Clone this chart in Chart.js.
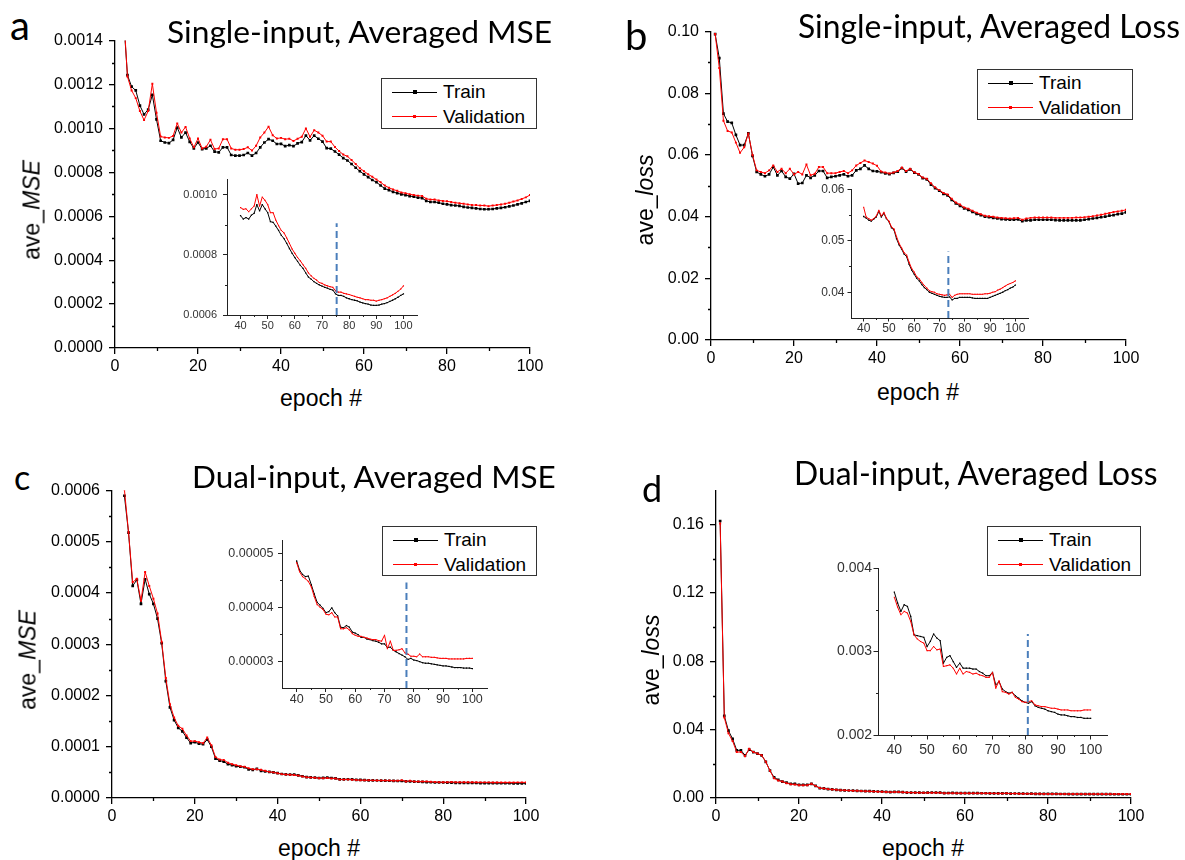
<!DOCTYPE html>
<html>
<head>
<meta charset="utf-8">
<title>Averaged MSE and loss per epoch</title>
<script src="https://cdn.jsdelivr.net/npm/chart.js@4.4.1/dist/chart.umd.min.js"></script>
<style>
  html, body { margin: 0; padding: 0; background: #fff; }
  #page { position: relative; width: 1185px; height: 860px; overflow: hidden; background: #fff; }
  #page canvas { position: absolute; }
  .txt { position: absolute; white-space: nowrap; color: #000; line-height: normal; }
  .sans { font-family: "Liberation Sans", Arial, sans-serif; }
  .head { font-family: Lato, "Open Sans", sans-serif; }
  .legend { position: absolute; box-sizing: border-box; border: 1.5px solid #333; background: #fff;
            font-family: "Liberation Sans", Arial, sans-serif; font-size: 19px; color: #000; }
  .legend .key { position: absolute; left: 10px; width: 45px; height: 0; border-top: 1px solid; }
  .legend .dot { position: absolute; }
  .legend .name { position: absolute; left: 61px; line-height: 22px; }
</style>
</head>
<body>
<div id="page"></div>
<script>
// ---- single-input model, averaged MSE (epochs 2..100) ----
const singleMseStart = 2;
const singleMseTrain = [
  0.00152, 0.001243, 0.00119, 0.001173, 0.001104, 0.001064, 0.001086, 0.001153, 0.001041, 0.000944,
  0.000936, 0.000933, 0.000948, 0.001004, 0.000959, 0.000981, 0.000939, 0.000909, 0.000936, 0.000906,
  0.000909, 0.000921, 0.000894, 0.000891, 0.000914, 0.000914, 0.000879, 0.000876, 0.000876, 0.000879,
  0.000888, 0.000876, 0.000888, 0.000914, 0.000936, 0.000951, 0.000944, 0.000929, 0.000930, 0.000919,
  0.000924, 0.000919, 0.000932, 0.000938, 0.000967, 0.000946, 0.000967, 0.000953, 0.000940, 0.000910,
  0.000908, 0.000895, 0.000881, 0.000865, 0.000854, 0.000838, 0.000821, 0.000805, 0.000791, 0.000778,
  0.000765, 0.000755, 0.000740, 0.000726, 0.000719, 0.000711, 0.000705, 0.000700, 0.000696, 0.000692,
  0.000689, 0.000685, 0.000683, 0.000670, 0.000665, 0.000665, 0.000662, 0.000657, 0.000654, 0.000651,
  0.000649, 0.000647, 0.000643, 0.000640, 0.000638, 0.000636, 0.000633, 0.000632, 0.000632, 0.000633,
  0.000636, 0.000638, 0.000641, 0.000645, 0.000649, 0.000654, 0.000659, 0.000665, 0.000670
];
const singleMseVal = [
  0.00155, 0.001236, 0.001173, 0.001138, 0.001079, 0.001038, 0.001079, 0.001203, 0.001071, 0.000963,
  0.000959, 0.000957, 0.000966, 0.001023, 0.000981, 0.001007, 0.000954, 0.000914, 0.000954, 0.000909,
  0.000917, 0.000948, 0.000906, 0.000909, 0.000951, 0.000951, 0.000909, 0.000903, 0.000903, 0.000906,
  0.000914, 0.000899, 0.000921, 0.000959, 0.000981, 0.001008, 0.000969, 0.000954, 0.000957, 0.000951,
  0.000953, 0.000943, 0.000953, 0.000962, 0.001000, 0.000962, 0.000992, 0.000981, 0.000967, 0.000940,
  0.000940, 0.000915, 0.000897, 0.000881, 0.000873, 0.000856, 0.000838, 0.000819, 0.000805, 0.000791,
  0.000780, 0.000767, 0.000755, 0.000740, 0.000730, 0.000722, 0.000716, 0.000708, 0.000705, 0.000700,
  0.000697, 0.000694, 0.000692, 0.000680, 0.000676, 0.000676, 0.000672, 0.000670, 0.000668, 0.000665,
  0.000662, 0.000659, 0.000657, 0.000654, 0.000651, 0.000651, 0.000649, 0.000649, 0.000646, 0.000649,
  0.000651, 0.000654, 0.000657, 0.000662, 0.000667, 0.000672, 0.000679, 0.000686, 0.000697
];

// ---- single-input model, averaged loss (epochs 1..100) ----
const singleLossStart = 1;
const singleLossTrain = [
  0.0992, 0.0914, 0.0734, 0.0708, 0.0704, 0.0665, 0.0632, 0.0632, 0.0670, 0.0597,
  0.0545, 0.0537, 0.0531, 0.0537, 0.0561, 0.0534, 0.0548, 0.0529, 0.0523, 0.0539,
  0.0507, 0.0509, 0.0534, 0.0526, 0.0534, 0.0548, 0.0548, 0.0526, 0.0529, 0.0531,
  0.0534, 0.0537, 0.0531, 0.0534, 0.0550, 0.0555, 0.0566, 0.0555, 0.0548, 0.0547,
  0.0544, 0.0540, 0.0538, 0.0542, 0.0546, 0.0557, 0.0546, 0.0553, 0.0543, 0.0537,
  0.0525, 0.0521, 0.0504, 0.0492, 0.0484, 0.0474, 0.0469, 0.0454, 0.0443, 0.0435,
  0.0427, 0.0422, 0.0415, 0.0409, 0.0405, 0.0400, 0.0398, 0.0396, 0.0394, 0.0392,
  0.0391, 0.0390, 0.0390, 0.0391, 0.0385, 0.0388, 0.0388, 0.0390, 0.0390, 0.0390,
  0.0390, 0.0390, 0.0389, 0.0388, 0.0388, 0.0388, 0.0388, 0.0388, 0.0388, 0.0390,
  0.0392, 0.0394, 0.0396, 0.0398, 0.0400, 0.0403, 0.0405, 0.0408, 0.0410, 0.0414
];
const singleLossVal = [
  0.0992, 0.0882, 0.0711, 0.0678, 0.0673, 0.0640, 0.0607, 0.0625, 0.0670, 0.0600,
  0.0550, 0.0545, 0.0541, 0.0550, 0.0566, 0.0545, 0.0555, 0.0541, 0.0555, 0.0537,
  0.0545, 0.0537, 0.0569, 0.0534, 0.0539, 0.0561, 0.0561, 0.0541, 0.0541, 0.0541,
  0.0545, 0.0548, 0.0541, 0.0550, 0.0566, 0.0574, 0.0582, 0.0577, 0.0572, 0.0565,
  0.0546, 0.0543, 0.0540, 0.0543, 0.0548, 0.0559, 0.0548, 0.0555, 0.0544, 0.0538,
  0.0527, 0.0523, 0.0508, 0.0495, 0.0486, 0.0477, 0.0472, 0.0458, 0.0446, 0.0439,
  0.0430, 0.0426, 0.0419, 0.0413, 0.0408, 0.0403, 0.0401, 0.0400, 0.0397, 0.0396,
  0.0395, 0.0394, 0.0395, 0.0396, 0.0390, 0.0394, 0.0396, 0.0397, 0.0397, 0.0397,
  0.0397, 0.0397, 0.0396, 0.0396, 0.0396, 0.0396, 0.0396, 0.0397, 0.0397, 0.0398,
  0.0400, 0.0401, 0.0404, 0.0406, 0.0409, 0.0412, 0.0415, 0.0417, 0.0419, 0.0422
];

// ---- dual-input model, averaged MSE (epochs 3..100) ----
const dualMseStart = 3;
const dualMseTrain = [
  5.90e-4, 5.18e-4, 4.14e-4, 4.26e-4, 3.79e-4, 4.27e-4, 3.98e-4, 3.79e-4, 3.50e-4, 3.02e-4,
  2.28e-4, 1.77e-4, 1.52e-4, 1.37e-4, 1.30e-4, 1.18e-4, 1.07e-4, 1.09e-4, 1.06e-4, 1.05e-4,
  1.14e-4, 1.00e-4, 7.7e-5, 7.3e-5, 7.1e-5, 6.6e-5, 6.4e-5, 6.2e-5, 6.1e-5, 6.0e-5,
  5.6e-5, 5.5e-5, 5.7e-5, 5.3e-5, 5.2e-5, 5.1e-5, 5.0e-5, 4.86e-5, 4.69e-5, 4.61e-5,
  4.57e-5, 4.58e-5, 4.42e-5, 4.25e-5, 4.09e-5, 4.04e-5, 3.98e-5, 3.90e-5, 3.92e-5, 3.99e-5,
  3.90e-5, 3.84e-5, 3.63e-5, 3.62e-5, 3.66e-5, 3.63e-5, 3.54e-5, 3.52e-5, 3.49e-5, 3.44e-5,
  3.44e-5, 3.41e-5, 3.40e-5, 3.38e-5, 3.37e-5, 3.35e-5, 3.32e-5, 3.32e-5, 3.25e-5, 3.26e-5,
  3.20e-5, 3.17e-5, 3.14e-5, 3.11e-5, 3.08e-5, 3.03e-5, 3.05e-5, 3.02e-5, 3.01e-5, 2.99e-5,
  2.97e-5, 2.96e-5, 2.96e-5, 2.95e-5, 2.94e-5, 2.93e-5, 2.92e-5, 2.91e-5, 2.91e-5, 2.90e-5,
  2.89e-5, 2.88e-5, 2.88e-5, 2.88e-5, 2.87e-5, 2.87e-5, 2.87e-5, 2.86e-5
];
const dualMseVal = [
  6.02e-4, 5.18e-4, 4.21e-4, 4.28e-4, 3.85e-4, 4.41e-4, 4.14e-4, 3.89e-4, 3.60e-4, 3.05e-4,
  2.34e-4, 1.83e-4, 1.57e-4, 1.41e-4, 1.35e-4, 1.22e-4, 1.11e-4, 1.11e-4, 1.09e-4, 1.07e-4,
  1.18e-4, 1.03e-4, 8.0e-5, 7.5e-5, 7.4e-5, 6.9e-5, 6.6e-5, 6.4e-5, 6.2e-5, 6.1e-5,
  5.8e-5, 5.6e-5, 5.6e-5, 5.5e-5, 5.3e-5, 5.1e-5, 5.0e-5, 4.83e-5, 4.66e-5, 4.57e-5,
  4.53e-5, 4.48e-5, 4.38e-5, 4.20e-5, 4.05e-5, 4.00e-5, 3.96e-5, 3.87e-5, 3.86e-5, 3.90e-5,
  3.82e-5, 3.82e-5, 3.60e-5, 3.60e-5, 3.62e-5, 3.58e-5, 3.51e-5, 3.48e-5, 3.46e-5, 3.46e-5,
  3.44e-5, 3.43e-5, 3.41e-5, 3.40e-5, 3.40e-5, 3.38e-5, 3.37e-5, 3.48e-5, 3.23e-5, 3.37e-5,
  3.20e-5, 3.20e-5, 3.21e-5, 3.23e-5, 3.15e-5, 3.13e-5, 3.09e-5, 3.09e-5, 3.08e-5, 3.13e-5,
  3.08e-5, 3.08e-5, 3.08e-5, 3.07e-5, 3.07e-5, 3.06e-5, 3.05e-5, 3.05e-5, 3.05e-5, 3.04e-5,
  3.04e-5, 3.04e-5, 3.04e-5, 3.04e-5, 3.04e-5, 3.05e-5, 3.05e-5, 3.05e-5
];

// ---- dual-input model, averaged loss (epochs 1..100) ----
const dualLossStart = 1;
const dualLossTrain = [
  0.1622, 0.0481, 0.0394, 0.0346, 0.0279, 0.0279, 0.0250, 0.0283, 0.0269, 0.0260,
  0.0250, 0.0212, 0.0160, 0.0121, 0.0106, 0.0096, 0.0090, 0.0083, 0.0083, 0.0077,
  0.0077, 0.0077, 0.0083, 0.0071, 0.0058, 0.0056, 0.0052, 0.0050, 0.0048, 0.0046,
  0.0045, 0.0044, 0.0043, 0.0042, 0.0041, 0.0040, 0.0040, 0.0039, 0.0038, 0.00371,
  0.00358, 0.00348, 0.00356, 0.00354, 0.00342, 0.00320, 0.00319, 0.00318, 0.00317, 0.00306,
  0.00312, 0.00321, 0.00316, 0.00313, 0.00286, 0.00293, 0.00295, 0.00288, 0.00281, 0.00286,
  0.00280, 0.00280, 0.00280, 0.00279, 0.00279, 0.00276, 0.00274, 0.00271, 0.00271, 0.00275,
  0.00260, 0.00264, 0.00255, 0.00252, 0.00250, 0.00251, 0.00247, 0.00244, 0.00241, 0.00239,
  0.00238, 0.00240, 0.00235, 0.00233, 0.00232, 0.00231, 0.00229, 0.00228, 0.00227, 0.00225,
  0.00224, 0.00224, 0.00223, 0.00222, 0.00222, 0.00221, 0.00221, 0.00220, 0.00220, 0.00220
];
const dualLossVal = [
  0.1607, 0.0471, 0.0379, 0.0333, 0.0269, 0.0269, 0.0244, 0.0289, 0.0269, 0.0260,
  0.0250, 0.0212, 0.0160, 0.0115, 0.0102, 0.0096, 0.0087, 0.0081, 0.0079, 0.0075,
  0.0075, 0.0075, 0.0083, 0.0071, 0.0058, 0.0056, 0.0052, 0.0050, 0.0048, 0.0046,
  0.0045, 0.0044, 0.0043, 0.0042, 0.0041, 0.0040, 0.0039, 0.0038, 0.0037, 0.00365,
  0.00353, 0.00344, 0.00348, 0.00346, 0.00336, 0.00320, 0.00315, 0.00312, 0.00310, 0.00301,
  0.00301, 0.00306, 0.00302, 0.00303, 0.00282, 0.00283, 0.00284, 0.00280, 0.00273, 0.00280,
  0.00273, 0.00276, 0.00275, 0.00273, 0.00274, 0.00272, 0.00271, 0.00269, 0.00269, 0.00275,
  0.00256, 0.00265, 0.00252, 0.00251, 0.00249, 0.00251, 0.00245, 0.00243, 0.00240, 0.00239,
  0.00240, 0.00241, 0.00236, 0.00235, 0.00234, 0.00234, 0.00233, 0.00232, 0.00232, 0.00231,
  0.00230, 0.00230, 0.00230, 0.00229, 0.00229, 0.00229, 0.00229, 0.00230, 0.00230, 0.00230
];

// chosen epoch (dashed marker) and how high the marker reaches, per model
const markerSingleMse = [75.4, 0.000905];
const markerSingleLoss = [73.5, 0.0479];
const markerDualMse = [77.5, 0.0000446];
const markerDualLoss = [80.8, 0.00321];

// tick labels
const epochLabels = ['0', '20', '40', '60', '80', '100'];
const epochMinor = [10, 30, 50, 70, 90];
const zoomEpochLabels = ['40', '50', '60', '70', '80', '90', '100'];
const zoomEpochMinor = [45, 55, 65, 75, 85, 95];
const singleMseLabels = ['0.0000', '0.0002', '0.0004', '0.0006', '0.0008', '0.0010', '0.0012', '0.0014'];
const singleMseMinor = [0.0001, 0.0003, 0.0005, 0.0007, 0.0009, 0.0011, 0.0013];
const singleMseZoomLabels = ['0.0006', '0.0008', '0.0010'];
const singleMseZoomMinor = [0.0007, 0.0009];
const singleLossLabels = ['0.00', '0.02', '0.04', '0.06', '0.08', '0.10'];
const singleLossMinor = [0.01, 0.03, 0.05, 0.07, 0.09];
const singleLossZoomLabels = ['0.04', '0.05', '0.06'];
const singleLossZoomMinor = [0.045, 0.055];
const dualMseLabels = ['0.0000', '0.0001', '0.0002', '0.0003', '0.0004', '0.0005', '0.0006'];
const dualMseMinor = [0.00005, 0.00015, 0.00025, 0.00035, 0.00045, 0.00055];
const dualMseZoomLabels = ['0.00003', '0.00004', '0.00005'];
const dualMseZoomMinor = [0.000035, 0.000045];
const dualLossLabels = ['0.00', '0.04', '0.08', '0.12', '0.16'];
const dualLossMinor = [0.02, 0.06, 0.10, 0.14];
const dualLossZoomLabels = ['0.002', '0.003', '0.004'];
const dualLossZoomMinor = [0.0025, 0.0035];

const RED = '#ff0000';
const BLACK = '#000000';
const DASH = '#4a7ebb';
const SANS = '"Liberation Sans", Arial, sans-serif';

const page = document.getElementById('page');

function toPoints(values, start, from) {
  return values.slice(from - start).map((v, i) => ({ x: from + i, y: v }));
}

// short outward ticks between the labelled ones
const minorTicks = {
  id: 'minorTicks',
  afterDraw(chart, args, o) {
    const { ctx, chartArea } = chart;
    const xs = chart.scales.x, ys = chart.scales.y;
    ctx.save();
    ctx.strokeStyle = o.color;
    ctx.lineWidth = o.width;
    ctx.beginPath();
    (o.x || []).forEach(v => {
      const px = Math.round(xs.getPixelForValue(v)) + 0.5;
      ctx.moveTo(px, chartArea.bottom);
      ctx.lineTo(px, chartArea.bottom + o.length);
    });
    (o.y || []).forEach(v => {
      const py = Math.round(ys.getPixelForValue(v)) + 0.5;
      ctx.moveTo(chartArea.left, py);
      ctx.lineTo(chartArea.left - o.length, py);
    });
    ctx.stroke();
    ctx.restore();
  }
};

function lineSets(train, val, start, from, marker, yMin, small) {
  const sets = [
    { label: 'Validation', data: toPoints(val, start, from), borderColor: RED, backgroundColor: RED,
      borderWidth: 1, pointStyle: 'rect', pointRadius: small ? 0.8 : 1.4, pointBorderWidth: 0, order: 1 },
    { label: 'Train', data: toPoints(train, start, from), borderColor: BLACK, backgroundColor: BLACK,
      borderWidth: 1, pointStyle: 'rect', pointRadius: small ? 0.9 : 1.9, pointBorderWidth: 0, order: 2 }
  ];
  if (marker) {
    sets.push({ label: 'chosen epoch', data: [{ x: marker[0], y: yMin }, { x: marker[0], y: marker[1] }],
      borderColor: DASH, borderWidth: 2, borderDash: [7, 4], pointRadius: 0, order: 0 });
  }
  return sets;
}

function makeChart(s) {
  const [x0, x1, y0, y1] = s.area;
  const left = x0 - s.yAxisWidth, top = y0 - s.padTop;
  const canvas = document.createElement('canvas');
  canvas.width = x1 + s.padRight - left;
  canvas.height = y1 + s.xAxisHeight - top;
  canvas.style.left = left + 'px';
  canvas.style.top = top + 'px';
  page.appendChild(canvas);

  const xVals = s.xLabels.map(Number);
  const yVals = s.yLabels.map(Number);
  const font = { family: SANS, size: s.font };
  const grid = { display: true, drawOnChartArea: false, drawTicks: true, tickLength: s.tickLen,
                 color: s.axisColor, lineWidth: s.axisWidth };
  const border = { display: true, color: s.axisColor, width: s.axisWidth };

  return new Chart(canvas, {
    type: 'line',
    data: { datasets: s.datasets },
    options: {
      responsive: false,
      animation: false,
      events: [],
      layout: { padding: { left: 0, top: s.padTop, right: s.padRight, bottom: 0 } },
      plugins: {
        legend: { display: false },
        tooltip: { enabled: false },
        minorTicks: { x: s.xMinor, y: s.yMinor, length: s.minorLen, color: s.axisColor, width: s.axisWidth }
      },
      scales: {
        x: {
          type: 'linear', min: s.xRange[0], max: s.xRange[1],
          afterFit: sc => { sc.height = s.xAxisHeight; },
          afterBuildTicks: sc => { sc.ticks = xVals.map(v => ({ value: v })); },
          ticks: { callback: (v, i) => s.xLabels[i], font, color: s.labelColor, padding: s.xPad,
                   maxRotation: 0, autoSkip: false },
          grid, border
        },
        y: {
          type: 'linear', min: s.yRange[0], max: s.yRange[1],
          afterFit: sc => { sc.width = s.yAxisWidth; },
          afterBuildTicks: sc => { sc.ticks = yVals.map(v => ({ value: v })); },
          ticks: { callback: (v, i) => s.yLabels[i], font, color: s.labelColor, padding: s.yPad,
                   autoSkip: false },
          grid, border
        }
      }
    },
    plugins: [minorTicks]
  });
}

const mainStyle = { yAxisWidth: 80, xAxisHeight: 34, padTop: 12, padRight: 24, font: 16, tickLen: 6,
  minorLen: 3, yPad: 6, xPad: 3, labelColor: '#000', axisColor: '#000', axisWidth: 1.3,
  xRange: [0, 100], xLabels: epochLabels, xMinor: epochMinor };
const zoomStyle = { yAxisWidth: 60, xAxisHeight: 28, padTop: 10, padRight: 16, minorLen: 2,
  labelColor: '#333', axisColor: '#222', axisWidth: 1, xRange: [35, 105],
  xLabels: zoomEpochLabels, xMinor: zoomEpochMinor };

const panels = [
  { train: singleMseTrain, val: singleMseVal, start: singleMseStart, marker: markerSingleMse,
    main: { area: [115, 530, 37, 348], yRange: [0, 0.0014], yLabels: singleMseLabels, yMinor: singleMseMinor },
    zoom: { area: [227, 417, 177, 315], yRange: [0.0006, 0.00105], yLabels: singleMseZoomLabels,
            yMinor: singleMseZoomMinor, font: 11, tickLen: 4, yPad: 6, xPad: 0 } },
  { train: singleLossTrain, val: singleLossVal, start: singleLossStart, marker: markerSingleLoss,
    main: { area: [711, 1126, 28, 340], yRange: [0, 0.1], yLabels: singleLossLabels, yMinor: singleLossMinor },
    zoom: { area: [851, 1028, 189, 318], yRange: [0.035, 0.06], yLabels: singleLossZoomLabels,
            yMinor: singleLossZoomMinor, font: 12, tickLen: 3.5, yPad: 3, xPad: 0 } },
  { train: dualMseTrain, val: dualMseVal, start: dualMseStart, marker: markerDualMse,
    main: { area: [112, 526, 487, 798], yRange: [0, 0.0006], yLabels: dualMseLabels, yMinor: dualMseMinor },
    zoom: { area: [282, 487, 538, 688], yRange: [0.000025, 0.0000525], yLabels: dualMseZoomLabels,
            yMinor: dualMseZoomMinor, font: 12.5, tickLen: 4, yPad: 4.5, xPad: 0 } },
  { train: dualLossTrain, val: dualLossVal, start: dualLossStart, marker: markerDualLoss,
    main: { area: [716, 1131, 487, 798], yRange: [0, 0.18], yLabels: dualLossLabels, yMinor: dualLossMinor },
    zoom: { area: [878, 1107, 568, 735], yRange: [0.002, 0.004], yLabels: dualLossZoomLabels,
            yMinor: dualLossZoomMinor, font: 14, tickLen: 4.5, yPad: 1.5, xPad: 2 } }
];

panels.forEach(p => {
  makeChart(Object.assign({}, mainStyle, p.main,
    { datasets: lineSets(p.train, p.val, p.start, p.start, null, 0, false) }));
});
panels.forEach(p => {
  makeChart(Object.assign({}, zoomStyle, p.zoom,
    { datasets: lineSets(p.train, p.val, p.start, 40, p.marker, p.zoom.yRange[0], true) }));
});

// ---- text ----
function addText(html, cls, size, x, y, opts) {
  opts = opts || {};
  const el = document.createElement('div');
  el.className = 'txt ' + cls;
  el.style.fontSize = size + 'px';
  el.innerHTML = html;
  page.appendChild(el);
  if (opts.width) el.style.fontSize = (size * opts.width / el.offsetWidth) + 'px';
  el.style.left = x + 'px';
  if (opts.rotate) {
    el.style.top = y + 'px';
    el.style.transform = 'translate(-50%, -50%) rotate(-90deg)';
  } else if (opts.center) {
    el.style.top = y + 'px';
    el.style.transform = 'translate(-50%, -50%)';
  } else {
    // x is the left edge, y the baseline
    const probe = document.createElement('span');
    probe.style.cssText = 'display:inline-block;width:0;height:0;vertical-align:baseline';
    el.appendChild(probe);
    el.style.top = (y - probe.offsetTop) + 'px';
  }
  return el;
}

addText('a', 'head', 40, 10, 40);
addText('b', 'head', 40, 625, 50);
addText('c', 'head', 34, 14, 490);
addText('d', 'head', 36, 642, 502);

addText('Single-input, Averaged MSE', 'head', 30, 167, 43, { width: 385 });
addText('Single-input, Averaged Loss', 'head', 30, 798, 38, { width: 382 });
addText('Dual-input, Averaged MSE', 'head', 30, 192, 488, { width: 364 });
addText('Dual-input, Averaged Loss', 'head', 30, 794, 485, { width: 364 });

addText('epoch #', 'sans', 23, 321, 398, { center: true });
addText('epoch #', 'sans', 23, 918, 392, { center: true });
addText('epoch #', 'sans', 23, 319, 848, { center: true });
addText('epoch #', 'sans', 23, 923, 848, { center: true });

addText('ave_<i>MSE</i>', 'sans', 23, 32, 210, { rotate: true });
addText('ave_<i>loss</i>', 'sans', 23, 645, 200, { rotate: true });
addText('ave_<i>MSE</i>', 'sans', 23, 28, 660, { rotate: true });
addText('ave_<i>loss</i>', 'sans', 23, 651, 660, { rotate: true });

// ---- legends ----
function addLegend(x, y, w, h) {
  const box = document.createElement('div');
  box.className = 'legend';
  Object.assign(box.style, { left: x + 'px', top: y + 'px', width: w + 'px', height: h + 'px' });
  [['Train', BLACK, 4, 13], ['Validation', RED, 3, 37.5]].forEach(([name, color, dot, cy]) => {
    const key = document.createElement('div');
    key.className = 'key';
    Object.assign(key.style, { top: (cy - 0.5) + 'px', borderColor: color });
    const d = document.createElement('div');
    d.className = 'dot';
    Object.assign(d.style, { left: (32.5 - dot / 2) + 'px', top: (cy - dot / 2) + 'px',
      width: dot + 'px', height: dot + 'px', background: color });
    const t = document.createElement('div');
    t.className = 'name';
    t.style.top = (cy - 11) + 'px';
    t.textContent = name;
    box.append(key, d, t);
  });
  page.appendChild(box);
}
addLegend(381, 78, 156, 51);
addLegend(977, 69, 156, 51);
addLegend(382, 526, 155, 50);
addLegend(987, 526, 154, 50);
</script>
</body>
</html>
